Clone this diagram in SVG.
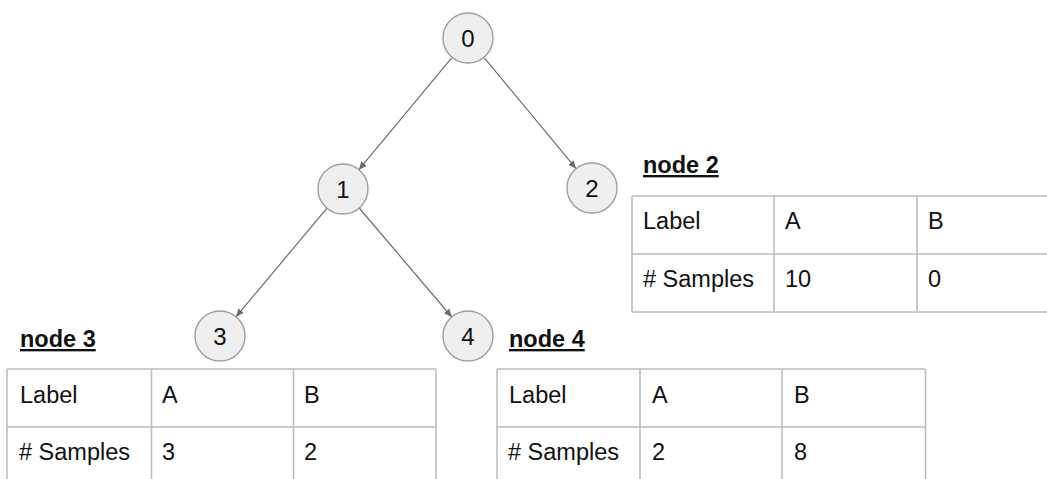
<svg xmlns="http://www.w3.org/2000/svg" width="1047" height="479" viewBox="0 0 1047 479">
  <style>
    .node circle { fill: #efefef; stroke: #9e9e9e; stroke-width: 1.4; }
    .node text { font-family: "Liberation Sans", Arial, sans-serif; font-size: 24px; fill: #111; text-anchor: middle; dominant-baseline: central; }
    .edge { stroke: #6b6b6b; stroke-width: 1.2; fill: none; marker-end: url(#arrow); }
    .grid { stroke: #bdbdbd; stroke-width: 1.6; fill: none; }
    .cell { font-family: "Liberation Sans", Arial, sans-serif; font-size: 23.5px; fill: #111; }
    .title { font-family: "Liberation Sans", Arial, sans-serif; font-size: 23.5px; font-weight: bold; fill: #111; text-decoration: underline; }
  </style>
  <defs>
    <marker id="arrow" markerUnits="userSpaceOnUse" markerWidth="9" markerHeight="8" refX="8" refY="3.5" orient="auto">
      <path d="M0,0 L8,3.5 L0,7 z" fill="#6b6b6b"/>
    </marker>
  </defs>
  <rect width="1047" height="479" fill="#ffffff"/>

  <!-- tree edges -->
  <g id="connectors">
    <line class="edge" x1="452.1" y1="57.3" x2="358.9" y2="169.7"/>
    <line class="edge" x1="483.9" y1="57.3" x2="576.1" y2="168.7"/>
    <line class="edge" x1="327" y1="208.2" x2="236" y2="316.8"/>
    <line class="edge" x1="359.2" y1="208" x2="451.8" y2="317"/>
  </g>

  <!-- tree nodes -->
  <g id="n0" class="node"><circle cx="468" cy="38" r="25"/><text x="468" y="38">0</text></g>
  <g id="n1" class="node"><circle cx="343" cy="189" r="25"/><text x="343" y="189">1</text></g>
  <g id="n2" class="node"><circle cx="592" cy="188" r="25"/><text x="592" y="188">2</text></g>
  <g id="n3" class="node"><circle cx="220" cy="336" r="25"/><text x="220" y="336">3</text></g>
  <g id="n4" class="node"><circle cx="468" cy="336" r="25"/><text x="468" y="336">4</text></g>

  <!-- leaf sample table: node 2 -->
  <g id="table2">
    <text class="title" x="643" y="173">node 2</text>
    <path class="grid" d="M632,196 H1060 M632,254 H1060 M632,312 H1060 M632,196 V312 M774,196 V312 M917,196 V312"/>
    <text class="cell" x="643" y="229">Label</text>
    <text class="cell" x="785" y="229">A</text>
    <text class="cell" x="928" y="229">B</text>
    <text class="cell" x="643" y="287">#&#160;Samples</text>
    <text class="cell" x="785" y="287">10</text>
    <text class="cell" x="928" y="287">0</text>
  </g>

  <!-- leaf sample table: node 3 -->
  <g id="table3">
    <text class="title" x="20" y="347">node 3</text>
    <path class="grid" d="M7,369 H436 M7,427 H436 M7,369 V485 M151.5,369 V485 M293.5,369 V485 M436,369 V485"/>
    <text class="cell" x="20" y="403">Label</text>
    <text class="cell" x="162" y="403">A</text>
    <text class="cell" x="304" y="403">B</text>
    <text class="cell" x="19" y="460">#&#160;Samples</text>
    <text class="cell" x="162" y="460">3</text>
    <text class="cell" x="304" y="460">2</text>
  </g>

  <!-- leaf sample table: node 4 -->
  <g id="table4">
    <text class="title" x="509" y="347">node 4</text>
    <path class="grid" d="M497,369 H925.5 M497,427 H925.5 M497,369 V485 M640,369 V485 M782,369 V485 M925.5,369 V485"/>
    <text class="cell" x="509" y="403">Label</text>
    <text class="cell" x="652" y="403">A</text>
    <text class="cell" x="794" y="403">B</text>
    <text class="cell" x="508" y="460">#&#160;Samples</text>
    <text class="cell" x="652" y="460">2</text>
    <text class="cell" x="794" y="460">8</text>
  </g>
</svg>
